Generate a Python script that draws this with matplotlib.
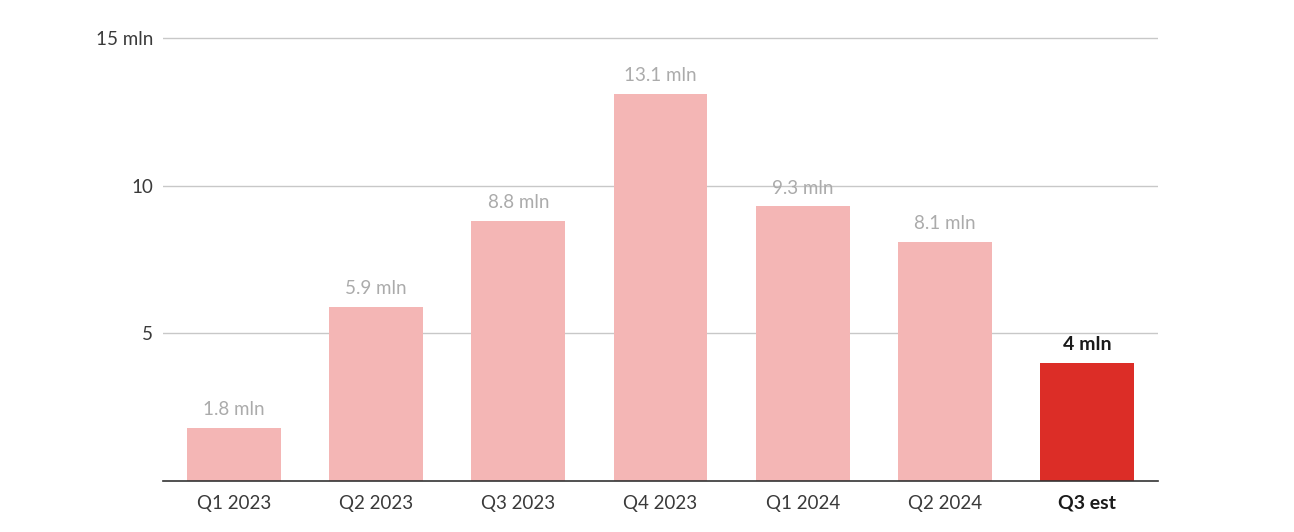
import matplotlib
matplotlib.use("Agg")
import matplotlib.pyplot as plt

quarters = ["Q1 2023", "Q2 2023", "Q3 2023", "Q4 2023", "Q1 2024", "Q2 2024", "Q3 est"]
values = [1.8, 5.9, 8.8, 13.1, 9.3, 8.1, 4]
value_labels = ["1.8 mln", "5.9 mln", "8.8 mln", "13.1 mln", "9.3 mln", "8.1 mln", "4 mln"]
y_ticks = [5, 10, 15]
y_ticklabels = ["5", "10", "15 mln"]

PINK = "#f4b6b5"
RED = "#dc2d27"

plt.rcParams["font.family"] = ["Lato", "DejaVu Sans"]

fig = plt.figure(figsize=(12.94, 5.32), dpi=100)
ax = fig.add_axes([163 / 1294, 1 - 481 / 532, (1158 - 163) / 1294, (481 - 29.2) / 532])

x = list(range(len(quarters)))
colors = [PINK] * (len(values) - 1) + [RED]
ax.bar(x, values, width=0.66, color=colors, zorder=2)

for i, (v, lab) in enumerate(zip(values, value_labels)):
    last = i == len(values) - 1
    ax.annotate(lab, (i, v), xytext=(0, 7), textcoords="offset points",
                ha="center", va="bottom", fontsize=14 if last else 13.5,
                color="#1a1a1a" if last else "#ababab",
                fontweight="bold" if last else "normal", zorder=3)

ax.set_xlim(-0.5, 6.5)
ax.set_ylim(0, 15.3)
ax.set_yticks(y_ticks)
ax.set_yticklabels(y_ticklabels, fontsize=13.5, color="#3a3a3a")
ax.yaxis.grid(True, color="#c8c8c8", linewidth=1, zorder=0)
ax.tick_params(axis="y", length=0, pad=7)

ax.set_xticks(x)
ax.set_xticklabels(quarters, fontsize=13.5, color="#3a3a3a")
ax.tick_params(axis="x", length=0, pad=10)
xt = ax.get_xticklabels()
xt[-1].set_fontweight("bold")
xt[-1].set_fontsize(14)
xt[-1].set_color("#1a1a1a")

for s in ["top", "right", "left"]:
    ax.spines[s].set_visible(False)
ax.spines["bottom"].set_color("#333333")
ax.spines["bottom"].set_linewidth(1.2)
ax.spines["bottom"].set_zorder(4)

fig.savefig("out.png", dpi=100, facecolor="white")
